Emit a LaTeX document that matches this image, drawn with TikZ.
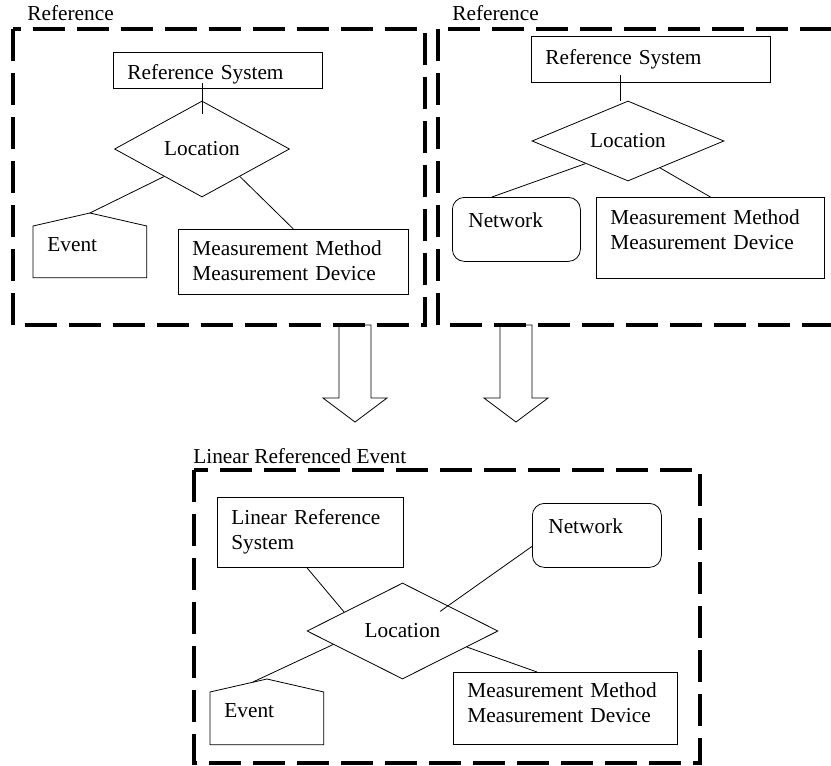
\documentclass[tikz,border=0pt]{standalone}
\usepackage{fontspec}
\setmainfont{Liberation Serif}
\usetikzlibrary{shapes.geometric}

\tikzset{
  box/.style={draw, rectangle, line width=0.8pt, anchor=north west, align=left,
    inner xsep=14pt, inner ysep=0pt},
  rbox/.style={box, rounded corners=12pt, inner xsep=16pt},
  event/.style={rectangle, anchor=north west, align=left, inner xsep=14pt, inner ysep=0pt},
  loc/.style={draw, diamond, line width=0.8pt, aspect=2, inner sep=0pt},
  frame/.style={line width=4pt, dash pattern=on 32pt off 12pt},
  title/.style={anchor=base west, inner sep=0pt}
}

\begin{document}
\begin{tikzpicture}[x=1pt, y=-1pt, line width=0.8pt,
    every node/.style={font=\fontsize{21.3}{25.5}\selectfont}]
  \useasboundingbox (0,0) rectangle (831,766);

  % the two upper panels
  \draw[frame] (13,29) rectangle (425,325);
  \draw[frame] (438,29) rectangle (845,325);
  \node[title] (ref1) at (27,20) {Reference};
  \node[title] (ref2) at (452,20) {Reference};

  \node[box, text width=181pt, text height=27pt, text depth=9pt] (rs1) at (113,52) {Reference System};
  \node[loc, minimum width=175pt, minimum height=96pt] (loc1) at (202,149) {Location};
  \node[event, text width=85pt, text height=25pt, text depth=26pt] (ev1) at (33,226) {Event};
  \coordinate (ev1top) at ([yshift=13pt]ev1.north);
  \node[box, text width=202pt, text height=26pt, text depth=39pt] (mm1) at (178,229) {Measurement Method\\Measurement Device};

  \node[box, text width=211pt, text height=28pt, text depth=18pt] (rs2) at (531,36) {Reference System};
  \node[loc, minimum width=192pt, minimum height=80pt] (loc2) at (628,141) {Location};
  \node[rbox, text width=96pt, text height=30pt, text depth=34pt] (net2) at (452,197) {Network};
  \node[box, text width=200pt, text height=27pt, text depth=54pt] (mm2) at (596,197) {Measurement Method\\Measurement Device};

  \draw (ev1.south west) -- (ev1.north west) -- (ev1top) -- (ev1.north east) -- (ev1.south east) -- cycle;

  \draw[shorten <=-6pt, shorten >=-13pt] (loc1.north |- rs1.south) -- (loc1.north);
  \draw (loc1.216) -- (ev1top);
  \draw (loc1.324) -- (mm1.north);

  \draw[shorten <=-8pt] ([xshift=-8pt]rs2.south -| loc2.north) -- ([xshift=-8pt]loc2.north);
  \draw (loc2.208) -- ([xshift=40pt]net2.north west);
  \draw (loc2.320) -- (mm2.north);

  % arrows down
  \foreach \x in {355,516}
    \draw (\x-16,325) -- (\x-16,398) -- (\x-32,398) -- (\x,422) -- (\x+32,398) -- (\x+16,398) -- (\x+16,325) -- cycle;

  % lower panel
  \draw[frame] (194,470) rectangle (700,763);
  \node[title] (lre) at (193,463) {Linear Referenced Event};

  \node[box, text width=158pt, text height=27pt, text depth=43pt] (lrs) at (217,497) {Linear Reference\\System};
  \node[rbox, text width=97pt, text height=30pt, text depth=34pt] (net3) at (532,503) {Network};
  \node[loc, minimum width=191pt, minimum height=96pt] (loc3) at (402.5,631) {Location};
  \node[event, text width=85pt, text height=25pt, text depth=27pt] (ev3) at (210,692) {Event};
  \coordinate (ev3top) at ([yshift=13pt]ev3.north);
  \coordinate (ev3roof) at ([xshift=-14pt,yshift=10pt]ev3.north);
  \node[box, text width=196pt, text height=25pt, text depth=47pt] (mm3) at (453,672) {Measurement Method\\Measurement Device};

  \draw (ev3.south west) -- (ev3.north west) -- (ev3top) -- (ev3.north east) -- (ev3.south east) -- cycle;

  \draw ([xshift=90pt]lrs.south west) -- (loc3.162);
  \draw[shorten >=-10pt] ([yshift=-11pt]net3.west) -- (loc3.29);
  \draw (loc3.191) -- (ev3roof);
  \draw (loc3.346) -- ([xshift=84pt]mm3.north west);
\end{tikzpicture}
\end{document}
